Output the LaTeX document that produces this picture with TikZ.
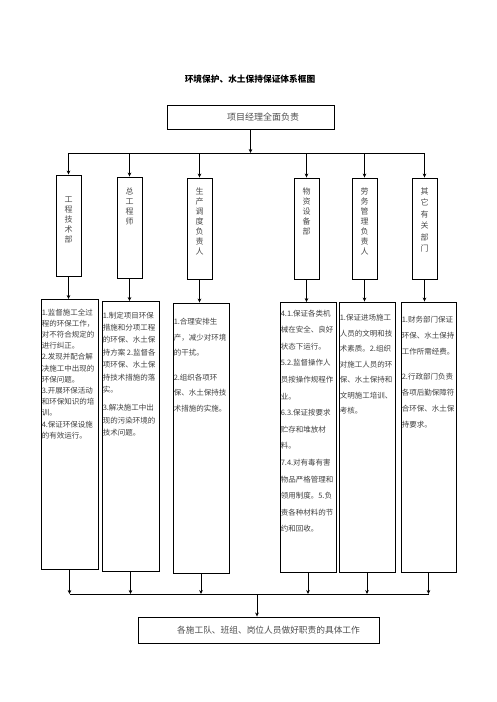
\documentclass[tikz,border=0pt]{standalone}
\usepackage{fontspec}
\setmainfont{Noto Sans CJK SC}
\usetikzlibrary{arrows.meta}

\newcommand{\descfont}[1]{\fontsize{7.5pt}{#1pt}\selectfont}

\tikzset{
  box/.style={draw=black, line width=0.9pt, inner sep=0pt},
  dept/.style={box, minimum width=25, minimum height=101},
  detail/.style={box, minimum height=270},
  depttxt/.style={anchor=north, align=center, inner sep=0pt, text=black!70,
    font=\fontsize{8pt}{10pt}\selectfont},
  desc/.style={anchor=north west, align=left, inner sep=1pt, text=black!75},
  conn/.style={line width=0.8pt, -{Stealth[length=4pt,width=3.6pt]}},
  bus/.style={line width=0.8pt}
}

\begin{document}
\begin{tikzpicture}[x=1pt, y=-1pt]
	\useasboundingbox (0,0) rectangle (496,702);
	
	% title and head
	\node[font=\bfseries\fontsize{8.7pt}{10pt}\selectfont] (title) at (250, 79) {环境保护、水土保持保证体系框图};
	\node[box, minimum width=167, minimum height=24, text=black!70,
	      font=\fontsize{9pt}{10pt}\selectfont] (mgr) at (250.5, 117) {\hspace{25pt}项目经理全面负责};
	
	% departments
	\node[dept] (d1) at (68.5, 225.5) {};
	\node[dept] (d2) at (129.5, 227.5) {};
	\node[dept] (d3) at (199.5, 228.5) {};
	\node[dept] (d4) at (306.5, 228.5) {};
	\node[dept] (d5) at (364.5, 228.5) {};
	\node[dept] (d6) at (424.5, 228.5) {};
	\node[depttxt] (t1) at ([yshift=-22]d1.north) {工\\程\\技\\术\\部};
	\node[depttxt] (t2) at ([yshift=-11]d2.north) {总\\工\\程\\师};
	\node[depttxt] (t3) at ([yshift=-10]d3.north) {生\\产\\调\\度\\负\\责\\人};
	\node[depttxt] (t4) at ([yshift=-10]d4.north) {物\\资\\设\\备\\部};
	\node[depttxt] (t5) at ([yshift=-10]d5.north) {劳\\务\\管\\理\\负\\责\\人};
	\node[depttxt, font=\fontsize{8pt}{11.5pt}\selectfont] (t6) at ([yshift=-10]d6.north) {其\\它\\有\\关\\部\\门};
	
	% duties
	\node[detail, minimum width=57] (dA) at (69.5, 434.5) {};
	\node[detail, minimum width=57] (dB) at (130.5, 436.5) {};
	\node[detail, minimum width=56] (dC) at (201, 438) {};
	\node[detail, minimum width=56] (dD) at (308, 437.5) {};
	\node[detail, minimum width=56] (dE) at (367, 437) {};
	\node[detail, minimum width=55] (dF) at (428.5, 437) {};
	\node[desc, font=\descfont{11.2}] (pA) at ([yshift=-8.5]dA.north west)
	  {1.监督施工全过\\程的环保工作，\\对不符合规定的\\进行纠正。\\2.发现并配合解\\决施工中出现的\\环保问题。\\3.开展环保活动\\和环保知识的培\\训。\\4.保证环保设施\\的有效运行。};
	\node[desc, font=\descfont{12.4}] (pB) at ([yshift=-9.5]dB.north west)
	  {1.制定项目环保\\措施和分项工程\\的环保、水土保\\持方案 2.监督各\\项环保、水土保\\持技术措施的落\\实。\\[6pt]3.解决施工中出\\现的污染环境的\\技术问题。};
	\node[desc, font=\descfont{15.5}] (pC) at ([yshift=-14.5]dC.north west)
	  {1.合理安排生\\产，减少对环境\\的干扰。\\[9pt]2.组织各项环\\保、水土保持技\\术措施的实施。};
	\node[desc, font=\descfont{16.6}] (pD) at ([yshift=-6.5]dD.north west)
	  {4.1.保证各类机\\械在安全、良好\\状态下运行。\\5.2.监督操作人\\员按操作规程作\\业。\\6.3.保证按要求\\贮存和堆放材\\料。\\7.4.对有毒有害\\物品严格管理和\\领用制度。5.负\\责各种材料的节\\约和回收。};
	\node[desc, font=\descfont{15.5}] (pE) at ([yshift=-11.5]dE.north west)
	  {1.保证进场施工\\人员的文明和技\\术素质。2.组织\\对施工人员的环\\保、水土保持和\\文明施工培训、\\考核。};
	\node[desc, font=\descfont{16}] (pF) at ([yshift=-13.5]dF.north west)
	  {1.财务部门保证\\环保、水土保持\\工作所需经费。\\[9pt]2.行政部门负责\\各项后勤保障符\\合环保、水土保\\持要求。};
	
	% bottom
	\node[box, minimum width=241, minimum height=26, text=black!70,
	      font=\fontsize{8.7pt}{10pt}\selectfont] (crew) at (258.5, 630) {\hspace{20pt}各施工队、班组、岗位人员做好职责的具体工作};
	
	% connectors
	\coordinate (topbus) at (250, 153);
	\coordinate (botbus) at (257, 594);
	\path[conn] (mgr.south) edge (mgr.south |- topbus);
	\draw[bus] (d1.north |- topbus) -- (d6.north |- topbus);
	\foreach \d in {d1,d2,d3,d4,d5,d6}
	  \path[conn] (\d.north |- topbus) edge (\d.north);
	\path[conn] (d1.south) edge (d1.south |- dA.north);
	\path[conn] (d2.south) edge (d2.south |- dB.north);
	\path[conn] (d3.south) edge (d3.south |- dC.north);
	\path[conn] (d4.south) edge (d4.south |- dD.north);
	\path[conn] (d5.south) edge (d5.south |- dE.north);
	\path[conn] (d6.south) edge (d6.south |- dF.north);
	\foreach \d in {dA,dB,dC,dD,dE,dF}
	  \path[conn] (\d.south) edge (\d.south |- botbus);
	\draw[bus] (dA.south |- botbus) -- (dF.south |- botbus);
	\path[conn] (botbus) edge (botbus |- crew.north);
	
\end{tikzpicture}
\end{document}
